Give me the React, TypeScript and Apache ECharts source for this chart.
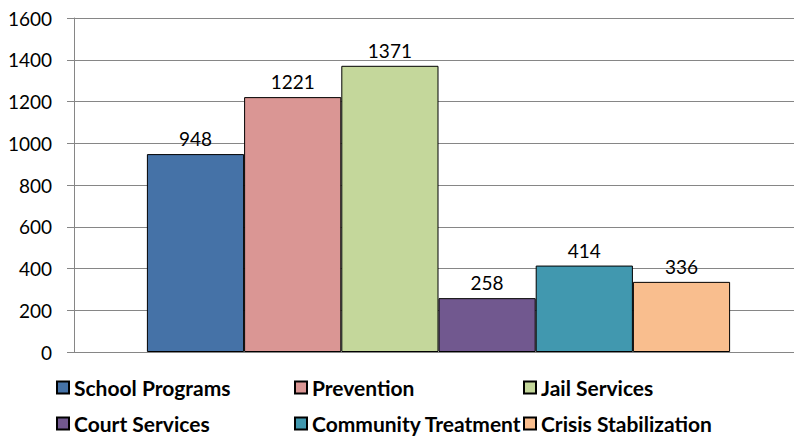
import React, { useEffect, useRef } from "react";
import * as echarts from "echarts";

const seriesNames = [
  "School Programs",
  "Prevention",
  "Jail Services",
  "Court Services",
  "Community Treatment",
  "Crisis Stabilization",
];
const seriesValues = [948, 1221, 1371, 258, 414, 336];
const seriesColors = ["#4572A7", "#DA9694", "#C4D79B", "#71588F", "#4198AF", "#F9BE8E"];
const categories = [""];
const legendPos = [
  { left: 56, top: 377 },
  { left: 294, top: 377 },
  { left: 523, top: 377 },
  { left: 56, top: 413 },
  { left: 294, top: 413 },
  { left: 523, top: 413 },
];

export default function App() {
  const ref = useRef<HTMLDivElement>(null);
  useEffect(() => {
    if (!ref.current) return;
    const chart = echarts.init(ref.current, undefined, { renderer: "svg" });
    const font = "Lato, 'Open Sans', sans-serif";
    chart.setOption({
      animation: false,
      textStyle: { fontFamily: font },
      grid: { left: 74, top: 18, bottom: 84, right: 0, containLabel: false },
      xAxis: {
        type: "category",
        data: categories,
        axisLine: { show: true, lineStyle: { color: "#868686", width: 1 } },
        axisTick: { show: false },
        axisLabel: { show: false },
      },
      yAxis: {
        type: "value",
        min: 0,
        max: 1600,
        interval: 200,
        axisLine: { show: true, lineStyle: { color: "#868686", width: 1 } },
        axisTick: { show: true, length: 7, lineStyle: { color: "#868686" } },
        axisLabel: {
          color: "#000",
          fontSize: 19,
          fontFamily: font,
          margin: 22,
          formatter: (v: number) => String(v),
        },
        splitLine: { show: true, lineStyle: { color: "#868686", width: 1 } },
      },
      legend: seriesNames.map((n, i) => ({
        data: [n],
        left: legendPos[i].left,
        top: legendPos[i].top,
        padding: 0,
        itemWidth: 12,
        itemHeight: 12,
        itemGap: 5,
        icon: "rect",
        textStyle: { color: "#000", fontSize: 21, fontWeight: "bold", fontFamily: font },
      })),
      series: seriesNames.map((n, i) => ({
        name: n,
        type: "bar",
        data: [seriesValues[i]],
        barGap: "0%",
        barCategoryGap: "20%",
        itemStyle: { color: seriesColors[i], borderColor: "#000", borderWidth: 1 },
        label: {
          show: true,
          position: "top",
          color: "#000",
          fontSize: 19,
          fontFamily: font,
          distance: 6,
        },
      })),
    });
    return () => chart.dispose();
  }, []);
  return (
    <div style={{ position: "absolute", left: 0, top: 0, width: 794, height: 436, overflow: "hidden" }}>
      <div ref={ref} style={{ width: 803, height: 436 }} />
    </div>
  );
}
